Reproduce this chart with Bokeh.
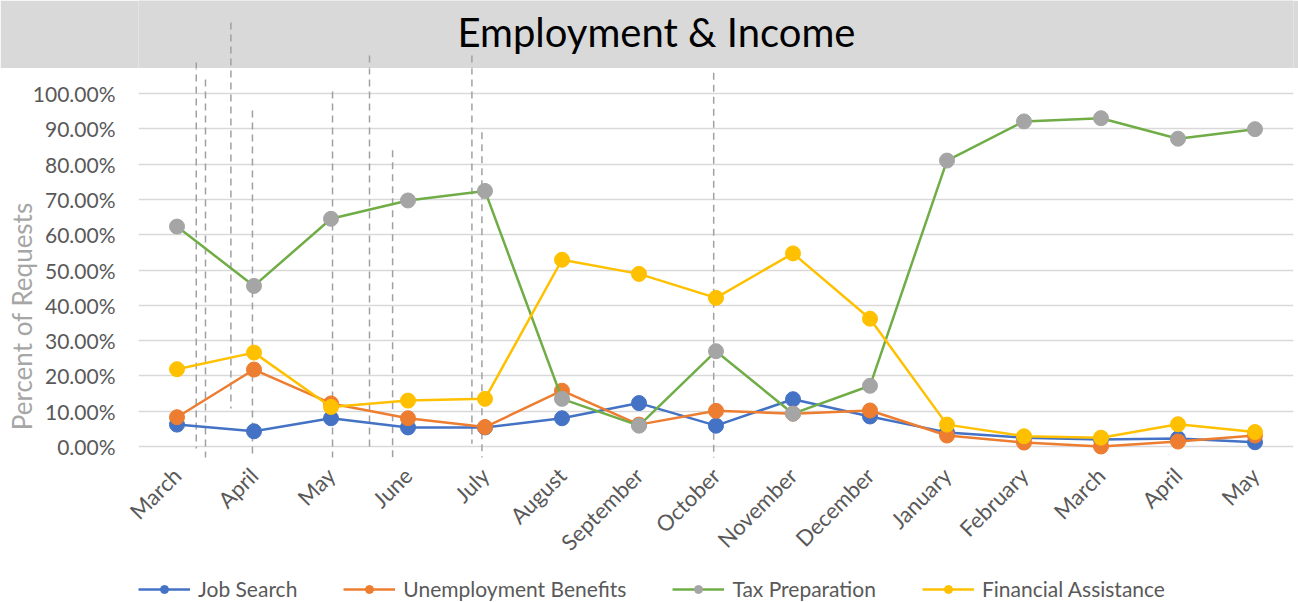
from math import pi
from bokeh.plotting import figure
from bokeh.layouts import column
from bokeh.models import (ColumnDataSource, FixedTicker, NumeralTickFormatter, Label,
                          Arrow, Legend, LegendItem, Range1d)
from bokeh.embed import file_html
from bokeh.resources import INLINE

# ---------------- data ----------------
months = ["March", "April", "May", "June", "July", "August", "September", "October",
          "November", "December", "January", "February", "March", "April", "May"]
job_search = [6.2, 4.3, 8.0, 5.4, 5.4, 8.0, 12.3, 5.9, 13.4, 8.5, 4.0, 2.5, 2.0, 2.3, 1.2]
unemployment = [8.3, 21.8, 12.2, 8.0, 5.5, 15.8, 6.2, 10.1, 9.3, 10.2, 3.1, 1.1, 0.0, 1.4, 3.1]
tax_prep = [62.3, 45.5, 64.5, 69.7, 72.4, 13.5, 5.9, 27.0, 9.3, 17.2, 81.0, 92.1, 93.0, 87.2, 89.9]
financial = [21.9, 26.6, 11.2, 13.0, 13.5, 52.9, 48.9, 42.1, 54.7, 36.2, 6.2, 2.9, 2.5, 6.3, 4.1]
y_ticks = [0.0, 0.1, 0.2, 0.3, 0.4, 0.5, 0.6, 0.7, 0.8, 0.9, 1.0]
series_names = ["Job Search", "Unemployment Benefits", "Tax Preparation", "Financial Assistance"]
title_text = "Employment & Income"
y_title = "Percent of Requests"

# stray dashed drop-lines visible in the original picture (x in category index units, y as fraction)
dash_x = [0.25, 0.37, 0.70, 0.98, 2.02, 2.50, 2.80, 3.83, 3.96, 6.97]
dash_top = [1.088, 1.040, 1.201, 0.952, 1.006, 1.108, 0.839, 1.108, 0.890, 1.059]
dash_bottom = [-0.006, -0.054, 0.108, -0.144, -0.074, -0.003, -0.252, 0.008, -0.204, -0.034]

# ---------------- layout / style ----------------
W, H = 1298, 602
BAND_H = 68                      # grey title band height
LEG_H = 32                       # legend strip height
ZERO_PX, FULL_PX = 446.0, 93.0   # pixel rows of 0% and 100%
PX_PER = ZERO_PX - FULL_PX
FRAME_BOTTOM = 457
LEFT, RIGHT = 138, 1293
FONT = "Lato"
TXT = "#595959"
BAND = "#D9D9D9"
line_colors = ["#4472C4", "#ED7D31", "#70AD47", "#FFC000"]
marker_colors = ["#4472C4", "#ED7D31", "#A5A5A5", "#FFC000"]

x_range = Range1d(-0.5, len(months) - 0.5)
y_main = Range1d((ZERO_PX - FRAME_BOTTOM) / PX_PER, (ZERO_PX - BAND_H) / PX_PER)
y_top = Range1d((ZERO_PX - BAND_H) / PX_PER, ZERO_PX / PX_PER)
units_per_px = len(months) / (RIGHT - LEFT)

dsrc = ColumnDataSource(dict(x=dash_x, top=dash_top, bottom=dash_bottom))

def dashed(fig):
    fig.add_layout(Arrow(end=None, x_start="x", y_start="top", x_end="x", y_end="bottom",
                         source=dsrc, line_color="#A0A0A0", line_width=1.5,
                         line_dash="7 5", level="underlay"))

def bare(fig, fill):
    fig.outline_line_color = None
    fig.grid.visible = False
    fig.background_fill_color = fill
    fig.border_fill_color = fill

# ---- top band figure (title) ----
top = figure(width=W, height=BAND_H, x_range=x_range, y_range=y_top,
             output_backend="svg", toolbar_location=None, title=None,
             x_axis_type=None, y_axis_type=None,
             min_border_left=LEFT, min_border_right=W - RIGHT, min_border_top=0, min_border_bottom=0)
bare(top, BAND)
dashed(top)
top.add_layout(Label(x=(656 - LEFT) * units_per_px - 0.5, y=(ZERO_PX - 31) / PX_PER,
                     text=title_text, text_align="center", text_baseline="middle",
                     text_font=FONT, text_font_size="40px", text_color="#000000"))

# ---- main figure ----
main_h = H - BAND_H - LEG_H
p = figure(width=W, height=main_h, x_range=x_range, y_range=y_main,
           output_backend="svg", toolbar_location=None, title=None,
           min_border_left=LEFT, min_border_right=W - RIGHT, min_border_top=0,
           min_border_bottom=main_h - (FRAME_BOTTOM - BAND_H))
p.outline_line_color = None
p.background_fill_color = "white"
p.border_fill_color = "white"

p.xgrid.visible = False
p.ygrid.ticker = FixedTicker(ticks=y_ticks)
p.ygrid.grid_line_color = BAND
p.ygrid.grid_line_width = 1.5
dashed(p)

xax = p.xaxis[0]
xax.ticker = FixedTicker(ticks=list(range(len(months))))
xax.major_label_overrides = {i: m for i, m in enumerate(months)}
xax.major_label_orientation = pi / 4
xax.axis_line_color = None
xax.major_tick_line_color = None
xax.minor_tick_line_color = None
xax.major_tick_out = 0
xax.major_tick_in = 0
xax.major_label_standoff = 14
xax.major_label_text_font = FONT
xax.major_label_text_font_size = "22px"
xax.major_label_text_color = TXT

yax = p.yaxis[0]
yax.ticker = FixedTicker(ticks=y_ticks)
yax.formatter = NumeralTickFormatter(format="0.00%")
yax.axis_line_color = None
yax.major_tick_line_color = None
yax.minor_tick_line_color = None
yax.major_tick_out = 0
yax.major_tick_in = 0
yax.major_label_standoff = 23
yax.major_label_text_font = FONT
yax.major_label_text_font_size = "21px"
yax.major_label_text_color = TXT
yax.axis_label = y_title + "\u00a0" * 16
yax.axis_label_standoff = -8
yax.axis_label_text_font = FONT
yax.axis_label_text_font_size = "26px"
yax.axis_label_text_line_height = 0.85
yax.axis_label_text_font_style = "normal"
yax.axis_label_text_color = "#A6A6A6"

# ---- legend strip ----
leg = figure(width=W, height=LEG_H, x_range=x_range, y_range=Range1d(10, 11),
             output_backend="svg", toolbar_location=None, title=None,
             x_axis_type=None, y_axis_type=None,
             min_border_left=LEFT, min_border_right=W - RIGHT, min_border_top=0, min_border_bottom=0)
bare(leg, "white")

xs = list(range(len(months)))
items = []
for name, vals, lcol, mcol in zip(series_names, [job_search, unemployment, tax_prep, financial],
                                  line_colors, marker_colors):
    src = ColumnDataSource(dict(x=xs, y=[v / 100.0 for v in vals]))
    p.line("x", "y", source=src, line_color=lcol, line_width=2.5)
    p.scatter("x", "y", source=src, size=15, fill_color=mcol, line_color=mcol)
    # same series in the legend strip (outside its visible range) to drive the legend glyphs
    lr = leg.line("x", "y", source=src, line_color=lcol, line_width=2.5)
    sr = leg.scatter("x", "y", source=src, size=15, fill_color=mcol, line_color=mcol)
    items.append(LegendItem(label=name, renderers=[lr, sr]))

legend = Legend(items=items, orientation="horizontal", location=(0, 1),
                glyph_width=52, glyph_height=20, label_standoff=8, spacing=46,
                padding=0, margin=0, border_line_color=None, background_fill_alpha=0,
                label_text_font=FONT, label_text_font_size="21px", label_text_color=TXT)
leg.add_layout(legend, "center")

layout = column(top, p, leg, spacing=0)
open("out.html", "w").write(file_html(layout, INLINE))
